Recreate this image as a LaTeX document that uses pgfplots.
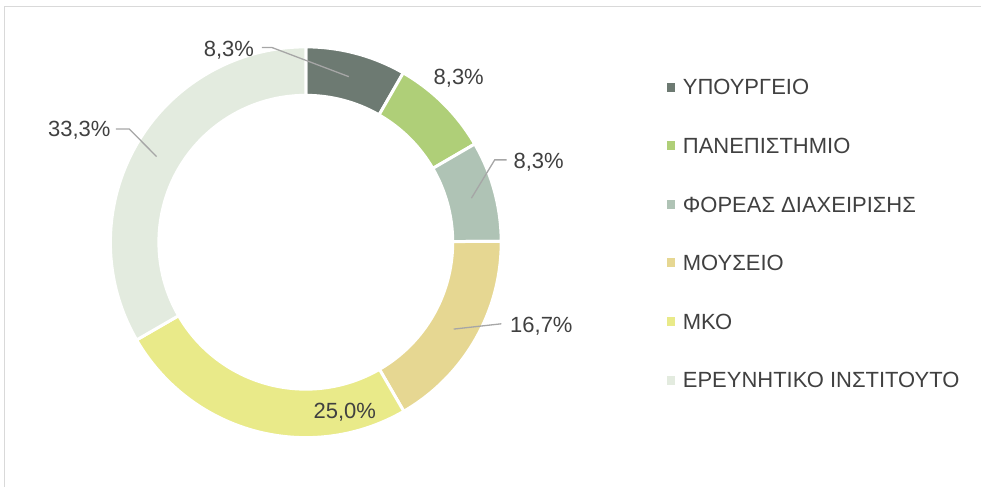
\documentclass[border=0pt]{standalone}
\usepackage{fontspec}
\setmainfont{Liberation Sans}
\usepackage{pgfplots}
\usepackage{pgfplotstable}
\pgfplotsset{compat=1.18}
\definecolor{c0}{HTML}{6D7A72}
\definecolor{c1}{HTML}{AFCF78}
\definecolor{c2}{HTML}{AFC3B5}
\definecolor{c3}{HTML}{E6D792}
\definecolor{c4}{HTML}{E9EA89}
\definecolor{c5}{HTML}{E3EBDF}
\definecolor{txt}{HTML}{404040}
\definecolor{lead}{HTML}{A6A6A6}
\definecolor{framec}{HTML}{D9D9D9}

\pgfplotstableread[col sep=comma]{
label,value
ΥΠΟΥΡΓΕΙΟ,8.3
ΠΑΝΕΠΙΣΤΗΜΙΟ,8.3
ΦΟΡΕΑΣ ΔΙΑΧΕΙΡΙΣΗΣ,8.3
ΜΟΥΣΕΙΟ,16.7
ΜΚΟ,25.0
ΕΡΕΥΝΗΤΙΚΟ ΙΝΣΤΙΤΟΥΤΟ,33.3
}\donutdata

\newcommand\lbl{\fontsize{22bp}{26bp}\selectfont}
\begin{document}
\begin{tikzpicture}
\begin{axis}[
  scale only axis, width=982bp, height=487bp,
  xmin=0, xmax=982, ymin=0, ymax=487,
  hide axis, clip=false,
  legend image code/.code={\fill[#1] (0bp,-3.5bp) rectangle (8bp,4.5bp);},
  legend style={at={(axis cs:666.7,407.2)}, anchor=north west, draw=none,
    fill=none, inner sep=0pt, row sep=43.6bp, column sep=8bp,
    font=\lbl, text=txt,
    nodes={text height=15bp, text depth=0bp, inner sep=0pt}},
  legend cell align=left,
]
% page extent
\path (axis cs:0,0) rectangle (axis cs:982,487);
% frame (top and left edges visible)
\draw[framec, line width=1.2bp] (axis cs:4.5,0) -- (axis cs:4.5,480.5) -- (axis cs:982,480.5);
% donut slices from the table
\def\cum{0}
\pgfplotsforeachungrouped \i in {0,...,5}{%
  \pgfplotstablegetelem{\i}{value}\of\donutdata
  \let\v=\pgfplotsretval
  \pgfmathsetmacro\a{90-\cum/99.9*360}%
  \pgfmathsetmacro\newcum{\cum+\v}%
  \pgfmathsetmacro\b{90-\newcum/99.9*360}%
  \global\let\cum\newcum
  \pgfmathsetmacro\ox{306+195.5*cos(\a)}%
  \pgfmathsetmacro\oy{244.6+195.5*sin(\a)}%
  \pgfmathsetmacro\ix{306+147*cos(\b)}%
  \pgfmathsetmacro\iy{244.6+147*sin(\b)}%
  \edef\cmd{\noexpand\fill[c\i, draw=white, line width=3bp]
    (axis cs:\ox,\oy) arc[start angle=\a, end angle=\b, radius=195.5bp]
    -- (axis cs:\ix,\iy) arc[start angle=\b, end angle=\a, radius=147bp] -- cycle;}%
  \cmd
}
% legend
\addlegendimage{c0}\addlegendentry{ΥΠΟΥΡΓΕΙΟ}
\addlegendimage{c1}\addlegendentry{ΠΑΝΕΠΙΣΤΗΜΙΟ}
\addlegendimage{c2}\addlegendentry{ΦΟΡΕΑΣ ΔΙΑΧΕΙΡΙΣΗΣ}
\addlegendimage{c3}\addlegendentry{ΜΟΥΣΕΙΟ}
\addlegendimage{c4}\addlegendentry{ΜΚΟ}
\addlegendimage{c5}\addlegendentry{ΕΡΕΥΝΗΤΙΚΟ ΙΝΣΤΙΤΟΥΤΟ}
% leader lines
\draw[lead, line width=1.3bp] (axis cs:262,439.5) -- (axis cs:272,439.5) -- (axis cs:349,410.3);
\draw[lead, line width=1.3bp] (axis cs:507,327) -- (axis cs:495,327) -- (axis cs:471.7,288.7);
\draw[lead, line width=1.3bp] (axis cs:501.7,163) -- (axis cs:454,157.7);
\draw[lead, line width=1.3bp] (axis cs:116,358) -- (axis cs:129.3,358) -- (axis cs:156.7,330.3);
% data labels
\node[anchor=base, text=txt, font=\lbl, inner sep=0pt] at (axis cs:229,430) {8,3\%};
\node[anchor=base, text=txt, font=\lbl, inner sep=0pt] at (axis cs:459,402) {8,3\%};
\node[anchor=base, text=txt, font=\lbl, inner sep=0pt] at (axis cs:539,318) {8,3\%};
\node[anchor=base, text=txt, font=\lbl, inner sep=0pt] at (axis cs:541.7,154) {16,7\%};
\node[anchor=base, text=txt, font=\lbl, inner sep=0pt] at (axis cs:345,68) {25,0\%};
\node[anchor=base, text=txt, font=\lbl, inner sep=0pt] at (axis cs:79.3,350.3) {33,3\%};
\end{axis}
\end{tikzpicture}
\end{document}
